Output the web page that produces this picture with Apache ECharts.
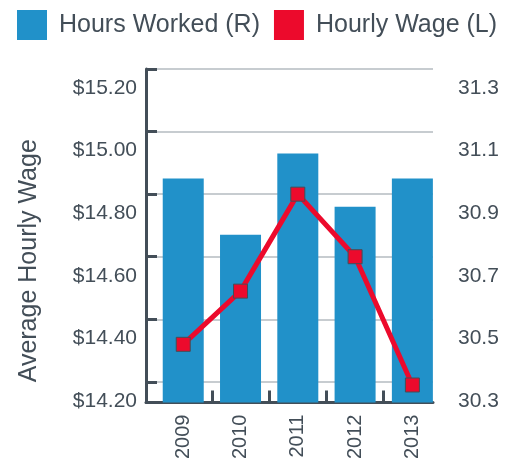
<!DOCTYPE html>
<html>
<head>
<meta charset="utf-8">
<script src="https://cdn.jsdelivr.net/npm/echarts@6/dist/echarts.min.js"></script>
<style>
  html, body { margin: 0; padding: 0; background: #fff; }
  #chart { width: 518px; height: 462px; }
</style>
</head>
<body>
<div id="chart"></div>
<script>
const years = ['2009', '2010', '2011', '2012', '2013']
const hoursWorked = [30.95, 30.77, 31.03, 30.86, 30.95]
const hourlyWage = [14.32, 14.49, 14.80, 14.60, 14.19]
const wageTicks = [14.2, 14.4, 14.6, 14.8, 15.0, 15.2]
const hoursTicks = [30.3, 30.5, 30.7, 30.9, 31.1, 31.3]

const ink = '#434e58'
const font = 'Liberation Sans, Arial, sans-serif'

const chart = echarts.init(document.getElementById('chart'))

chart.setOption({
  animation: false,
  textStyle: { fontFamily: font },
  legend: {
    left: 17,
    top: 10,
    padding: 0,
    itemWidth: 30,
    itemHeight: 30,
    itemGap: 14,
    icon: 'rect',
    itemStyle: { borderWidth: 0 },
    data: ['Hours Worked (R)', 'Hourly Wage (L)'],
    textStyle: { fontSize: 25, color: ink, fontFamily: font, padding: [0, 0, 0, 7] },
  },
  grid: { left: 146, right: 85, top: 69, bottom: 59 },
  xAxis: {
    type: 'value',
    min: -0.65,
    max: 4.36,
    splitLine: { show: false },
    axisLine: { lineStyle: { color: ink, width: 3 } },
    axisTick: {
      inside: true,
      length: 12,
      lineStyle: { color: ink, width: 3 },
      customValues: [0.5, 1.5, 2.5, 3.5],
    },
    axisLabel: {
      rotate: 90,
      margin: 12,
      fontSize: 20,
      color: ink,
      customValues: years.map((y, i) => i),
      formatter: (v) => years[Math.round(v)],
    },
  },
  yAxis: [
    {
      type: 'value',
      min: 14.134,
      max: 15.2,
      name: 'Average Hourly Wage',
      nameLocation: 'middle',
      nameGap: 104,
      nameTextStyle: { fontSize: 25, color: ink, padding: [0, 50, 0, 0] },
      axisLine: { show: true, onZero: false, lineStyle: { color: ink, width: 3 } },
      axisTick: {
        show: true,
        inside: true,
        length: 11,
        lineStyle: { color: ink, width: 3 },
        customValues: wageTicks,
      },
      splitLine: { show: true, lineStyle: { color: '#b4bbc1', width: 1.5 } },
      axisLabel: {
        customValues: wageTicks,
        fontSize: 21,
        color: ink,
        margin: 9,
        verticalAlign: 'top',
        lineHeight: 38,
        formatter: (v) => '$' + v.toFixed(2),
      },
    },
    {
      type: 'value',
      min: 30.234,
      max: 31.3,
      position: 'right',
      axisLine: { show: false, onZero: false },
      axisTick: { show: false, customValues: hoursTicks },
      splitLine: { show: false },
      axisLabel: {
        customValues: hoursTicks,
        fontSize: 21,
        color: ink,
        margin: 25,
        verticalAlign: 'top',
        lineHeight: 38,
        formatter: (v) => v.toFixed(1),
      },
    },
  ],
  series: [
    {
      name: 'Hours Worked (R)',
      type: 'bar',
      yAxisIndex: 1,
      barWidth: 41,
      itemStyle: { color: '#2191c9' },
      data: hoursWorked.map((v, i) => [i, v]),
    },
    {
      name: 'Hourly Wage (L)',
      type: 'line',
      yAxisIndex: 0,
      symbol: 'rect',
      symbolSize: 14,
      z: 5,
      lineStyle: { color: '#ec0a2c', width: 5 },
      itemStyle: { color: '#ec0a2c', borderColor: ink, borderWidth: 1 },
      data: hourlyWage.map((v, i) => [i, v]),
    },
  ],
})
</script>
</body>
</html>
